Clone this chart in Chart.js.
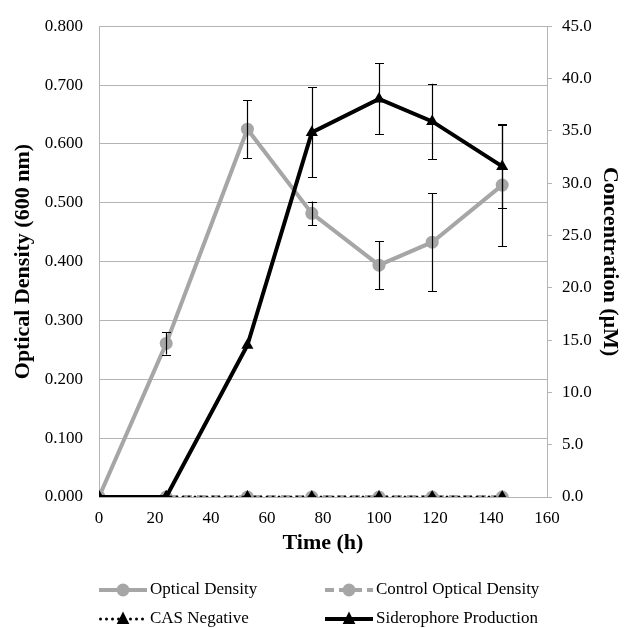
<!DOCTYPE html>
<html>
<head>
<meta charset="utf-8">
<script src="https://cdn.jsdelivr.net/npm/chart.js@4/dist/chart.umd.min.js"></script>
<style>
html,body{margin:0;padding:0;background:#fff;}
#wrap{width:627px;height:628px;}
</style>
</head>
<body>
<div id="wrap"><canvas id="c" width="627" height="628"></canvas></div>
<script>
const timeH = [0, 24, 53, 76, 100, 119, 144];
const opticalDensity = [0, 0.261, 0.625, 0.482, 0.394, 0.433, 0.530];
const opticalDensityErr = [0, 0.019, 0.049, 0.020, 0.041, 0.083, 0.104];
const controlOD = [0, 0, 0, 0, 0, 0, 0];
const casNegative = [0, 0, 0, 0, 0, 0, 0];
const siderophore = [0, 0, 14.5, 34.85, 38.05, 35.9, 31.6];
const siderophoreErr = [0, 0, 0, 4.3, 3.4, 3.6, 4.0];
const xTicks = [0, 20, 40, 60, 80, 100, 120, 140, 160];
const leftTicks = [0, 0.1, 0.2, 0.3, 0.4, 0.5, 0.6, 0.7, 0.8];
const rightTicks = [0, 5, 10, 15, 20, 25, 30, 35, 40, 45];
const seriesNames = ['Optical Density', 'Control Optical Density', 'CAS Negative', 'Siderophore Production'];

const GRAY = '#a6a6a6';
const GRID = '#b4b4b4';
const FONT = '"Liberation Serif", serif';

function pts(ys){ return timeH.map((t,i)=>({x:t, y:ys[i]})); }

const datasets = [
  {label: seriesNames[0], data: pts(opticalDensity), yAxisID:'y', borderColor:GRAY, backgroundColor:GRAY,
   borderWidth:4, pointStyle:'circle', pointRadius:6.5, pointBorderWidth:0, order:3, errs: opticalDensityErr},
  {label: seriesNames[1], data: pts(controlOD), yAxisID:'y', borderColor:GRAY, backgroundColor:GRAY,
   borderWidth:4, borderDash:[9,5], pointStyle:'circle', pointRadius:6.5, pointBorderWidth:0, order:2},
  {label: seriesNames[2], data: pts(casNegative), yAxisID:'y2', borderColor:'#000', backgroundColor:'#000',
   borderWidth:3, borderDash:[0,6], borderCapStyle:'round', pointStyle:'triangle', pointRadius:7, pointBorderWidth:0, order:1},
  {label: seriesNames[3], data: pts(siderophore), yAxisID:'y2', borderColor:'#000', backgroundColor:'#000',
   borderWidth:4, pointStyle:'triangle', pointRadius:7, pointBorderWidth:0, order:0, errs: siderophoreErr}
];

const errorBars = {
  id:'errorBars',
  afterDatasetsDraw(chart){
    const ctx = chart.ctx;
    const xs = chart.scales.x;
    ctx.save();
    ctx.strokeStyle = '#000';
    ctx.lineWidth = 1.2;
    chart.data.datasets.forEach(ds=>{
      if(!ds.errs) return;
      const ys = chart.scales[ds.yAxisID];
      ds.data.forEach((p,i)=>{
        const e = ds.errs[i];
        if(!e) return;
        const x = Math.round(xs.getPixelForValue(p.x))+0.5;
        const y1 = ys.getPixelForValue(p.y+e);
        const y2 = ys.getPixelForValue(p.y-e);
        ctx.beginPath();
        ctx.moveTo(x,y1); ctx.lineTo(x,y2);
        ctx.moveTo(x-4.5,Math.round(y1)+0.5); ctx.lineTo(x+4.5,Math.round(y1)+0.5);
        ctx.moveTo(x-4.5,Math.round(y2)+0.5); ctx.lineTo(x+4.5,Math.round(y2)+0.5);
        ctx.stroke();
      });
    });
    ctx.restore();
  }
};

function drawMarker(ctx, style, x, y, r){
  ctx.beginPath();
  if(style==='circle'){
    ctx.arc(x,y,r,0,Math.PI*2);
  } else {
    const s = r*1.8;
    ctx.moveTo(x, y - s*0.6);
    ctx.lineTo(x + s/2, y + s*0.4);
    ctx.lineTo(x - s/2, y + s*0.4);
    ctx.closePath();
  }
  ctx.fill();
}

const customLegend = {
  id:'customLegend',
  afterDraw(chart){
    const ctx = chart.ctx;
    const cols = [99, 325];
    const rows = [590, 619];
    const place = [[0,0],[1,0],[0,1],[1,1]];
    ctx.save();
    chart.data.datasets.forEach((ds,i)=>{
      const [c,r] = place[i];
      const x0 = cols[c], y = rows[r];
      const len = 48;
      ctx.strokeStyle = ds.borderColor;
      ctx.fillStyle = ds.backgroundColor;
      ctx.lineWidth = ds.borderWidth;
      ctx.lineCap = ds.borderCapStyle || 'butt';
      ctx.setLineDash(ds.borderDash || []);
      ctx.beginPath();
      if (ds.borderCapStyle === 'round') { ctx.moveTo(x0+1.5,y); ctx.lineTo(x0+len,y); }
      else { ctx.moveTo(x0,y); ctx.lineTo(x0+len,y); }
      ctx.stroke();
      ctx.setLineDash([]);
      drawMarker(ctx, ds.pointStyle, x0+len/2, y, ds.pointStyle==='circle'?6.5:7);
      ctx.fillStyle = '#000';
      ctx.font = '17px ' + FONT;
      ctx.textBaseline = 'middle';
      ctx.textAlign = 'left';
      ctx.fillText(ds.label, x0+len+3, y);
    });
    ctx.restore();
  }
};

new Chart(document.getElementById('c'), {
  type:'line',
  data:{datasets},
  options:{
    responsive:false,
    animation:false,
    layout:{padding:{top:21, bottom:71, left:0, right:0}},
    plugins:{legend:{display:false}, tooltip:{enabled:false}},
    elements:{line:{tension:0}},
    scales:{
      x:{type:'linear', min:0, max:160,
        afterBuildTicks(s){ s.ticks = xTicks.map(v=>({value:v})); },
        afterFit(s){ s.height = 60; },
        grid:{display:false, drawTicks:false},
        border:{display:false},
        ticks:{color:'#000', font:{family:FONT, size:17}, padding:11, maxRotation:0},
        title:{display:true, text:'Time (h)', color:'#000', font:{family:FONT, size:22, weight:'bold'}, padding:{top:0,bottom:0}}
      },
      y:{position:'left', min:0, max:0.8,
        afterBuildTicks(s){ s.ticks = leftTicks.map(v=>({value:v})); },
        afterFit(s){ s.width = 99; },
        grid:{color:GRID, lineWidth:1, drawTicks:false},
        border:{color:GRID},
        ticks:{color:'#000', font:{family:FONT, size:17}, padding:16, callback:v=>Number(v).toFixed(3)},
        title:{display:true, text:'Optical Density (600 nm)', color:'#000', font:{family:FONT, size:22, weight:'bold'}, padding:{top:10,bottom:0}}
      },
      y2:{position:'right', min:0, max:45,
        afterBuildTicks(s){ s.ticks = rightTicks.map(v=>({value:v})); },
        afterFit(s){ s.width = 80; },
        grid:{drawOnChartArea:false, drawTicks:true, tickLength:5, color:GRID},
        border:{color:GRID},
        ticks:{color:'#000', font:{family:FONT, size:17}, padding:10, callback:v=>Number(v).toFixed(1)},
        title:{display:true, text:'Concentration (µM)', color:'#000', font:{family:FONT, size:22, weight:'bold'}, padding:{top:4,bottom:0}}
      }
    }
  },
  plugins:[errorBars, customLegend]
});
</script>
</body>
</html>
